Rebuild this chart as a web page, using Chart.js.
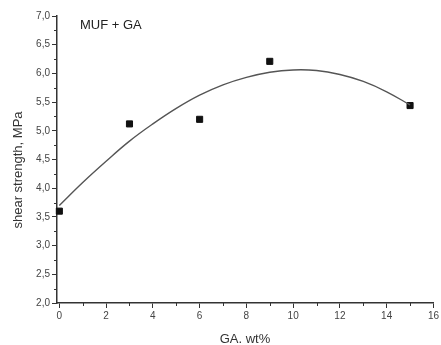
<!DOCTYPE html>
<html lang="en">
<head>
  <meta charset="UTF-8" />
  <title>MUF + GA shear strength</title>
  <script src="https://cdn.jsdelivr.net/npm/chart.js"></script>
  <style>
    body {
      margin: 0;
      background: #fff;
    }
    #wrap {
      width: 441px;
      height: 345px;
    }
  </style>
</head>
<body>
  <div id="wrap"><canvas id="shearChart"></canvas></div>

  <script>
    // measured points (GA wt% vs shear strength, MPa)
    const gaContent = [0, 3, 6, 9, 15];
    const shearValues = [3.60, 5.12, 5.20, 6.21, 5.44];

    // fitted curve
    const fitX = [0, 1, 2, 3, 4, 5, 6, 7, 8, 9, 10, 11, 12, 13, 14, 15];
    const fitY = [3.70, 4.10, 4.47, 4.82, 5.12, 5.39, 5.62, 5.80, 5.93, 6.02, 6.06, 6.05, 5.98, 5.86, 5.68, 5.45];

    const xTicks = [0, 2, 4, 6, 8, 10, 12, 14, 16];
    const yTicks = [2.0, 2.5, 3.0, 3.5, 4.0, 4.5, 5.0, 5.5, 6.0, 6.5, 7.0];

    const fontFamily = '"Liberation Sans", Arial, sans-serif';
    const font = { family: fontFamily, size: 10 };
    const axisColor = '#333';

    // minor ticks, axis titles and the label inside the plot
    const decorations = {
      id: 'decorations',
      afterDraw(chart) {
        const ctx = chart.ctx;
        const xs = chart.scales.x, ys = chart.scales.y;
        ctx.save();
        ctx.strokeStyle = axisColor;
        ctx.lineWidth = 1;
        ctx.beginPath();
        for (let i = 0; i < xTicks.length - 1; i++) {
          const px = Math.round(xs.getPixelForValue((xTicks[i] + xTicks[i + 1]) / 2)) + 0.5;
          ctx.moveTo(px, xs.top);
          ctx.lineTo(px, xs.top + 3);
        }
        for (let i = 0; i < yTicks.length - 1; i++) {
          const py = Math.round(ys.getPixelForValue((yTicks[i] + yTicks[i + 1]) / 2)) + 0.5;
          ctx.moveTo(ys.right, py);
          ctx.lineTo(ys.right - 3, py);
        }
        ctx.stroke();

        ctx.fillStyle = '#333';
        ctx.font = '13px ' + fontFamily;
        ctx.textAlign = 'center';
        ctx.textBaseline = 'middle';
        ctx.fillText('GA. wt%', 245, 339);

        ctx.save();
        ctx.translate(18, 170);
        ctx.rotate(-Math.PI / 2);
        ctx.fillText('shear strength, MPa', 0, 0);
        ctx.restore();

        ctx.fillStyle = '#222';
        ctx.textAlign = 'left';
        ctx.fillText('MUF + GA', 80, 25);
        ctx.restore();
      }
    };

    new Chart(document.getElementById('shearChart'), {
      type: 'scatter',
      data: {
        datasets: [
          {
            label: 'fit',
            type: 'line',
            data: fitX.map((x, i) => ({ x: x, y: fitY[i] })),
            borderColor: '#555',
            borderWidth: 1.4,
            pointRadius: 0,
            tension: 0.4,
            fill: false
          },
          {
            label: 'MUF + GA',
            data: gaContent.map((x, i) => ({ x: x, y: shearValues[i] })),
            backgroundColor: '#111',
            borderColor: '#111',
            pointStyle: 'rect',
            pointRadius: 4.3,
            clip: false
          }
        ]
      },
      options: {
        responsive: true,
        maintainAspectRatio: false,
        animation: false,
        layout: { padding: { top: 16, right: 6, left: 0, bottom: 0 } },
        plugins: {
          legend: { display: false },
          tooltip: { enabled: false }
        },
        scales: {
          x: {
            type: 'linear',
            min: -0.1,
            max: 16,
            afterBuildTicks: s => { s.ticks = xTicks.map(v => ({ value: v })); },
            afterFit: s => { s.height = 42; },
            grid: { drawOnChartArea: false, drawTicks: true, tickLength: 5, color: axisColor },
            border: { display: true, color: axisColor, width: 1.5 },
            ticks: { font: font, color: '#444', padding: 2, callback: v => v }
          },
          y: {
            min: 2,
            max: 7,
            afterBuildTicks: s => { s.ticks = yTicks.map(v => ({ value: v })); },
            afterFit: s => { s.width = 57; },
            grid: { drawOnChartArea: false, drawTicks: true, tickLength: 5, color: axisColor },
            border: { display: true, color: axisColor, width: 1.5 },
            ticks: {
              font: font,
              color: '#444',
              padding: 2,
              callback: v => v.toFixed(1).replace('.', ',')
            }
          }
        }
      },
      plugins: [decorations]
    });
  </script>
</body>
</html>
